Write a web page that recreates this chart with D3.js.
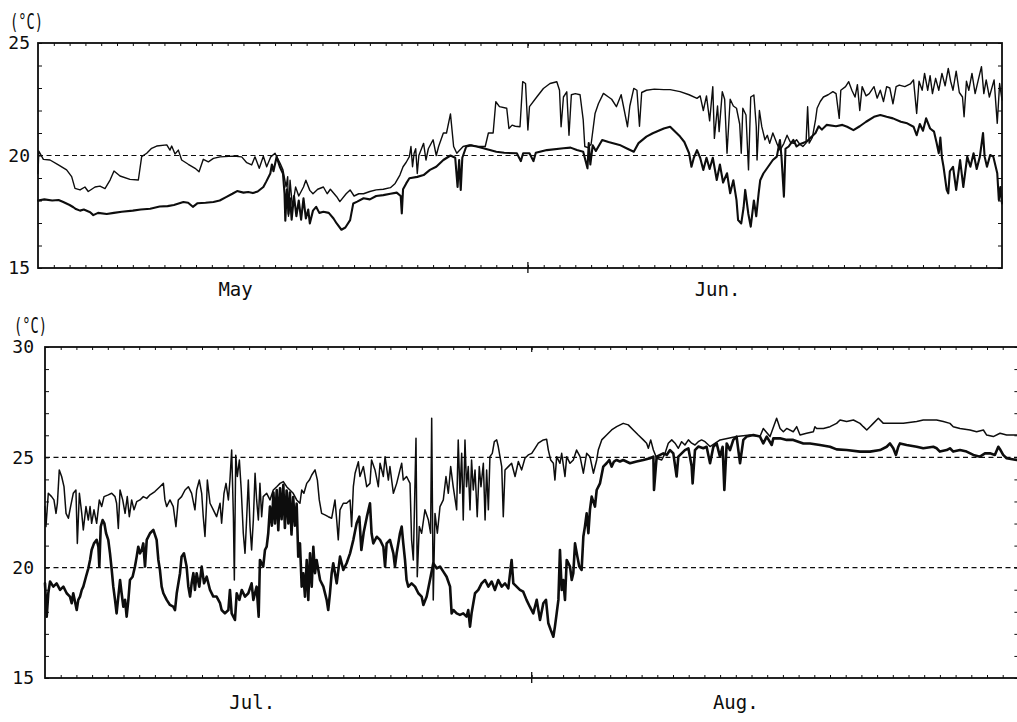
<!DOCTYPE html>
<html><head><meta charset="utf-8">
<script src="https://cdn.jsdelivr.net/npm/d3@7"></script>
<style>html,body{margin:0;padding:0;background:#fff;} svg{display:block;}</style>
</head><body>
<svg id="chart" width="1017" height="722"></svg>
<script>
// ---------- DATA (day offset from start of first month, temperature °C) ----------
const mayJunUpper = [[0.0,19.2],[0.05,20.2],[0.34,19.83],[0.76,19.8],[1.29,19.58],[1.81,19.36],[2.13,19.06],[2.34,18.54],[2.66,18.47],[2.97,18.6],[3.18,18.4],[3.61,18.6],[3.92,18.64],[4.24,18.53],[4.56,18.91],[4.81,19.31],[5.19,19.09],[5.82,18.94],[6.35,18.91],[6.56,19.95],[6.88,20.1],[7.19,20.32],[7.51,20.42],[8.15,20.47],[8.35,20.24],[8.46,20.42],[8.67,20.07],[8.88,20.24],[9.09,19.8],[9.51,19.61],[9.94,19.43],[10.19,19.28],[10.46,19.83],[10.78,19.72],[11.1,19.87],[11.52,19.94],[12.36,19.97],[12.89,19.94],[13.21,19.68],[13.52,19.58],[13.73,19.94],[14.0,19.43],[14.26,19.97],[14.47,19.5],[14.73,19.94],[15.0,20.1],[15.32,19.65],[15.5,19.36],[15.7,18.6],[15.8,19.06],[15.85,17.3],[15.95,18.9],[16.1,17.7],[16.3,18.6],[16.5,18.2],[16.8,18.6],[16.95,18.9],[17.2,18.45],[17.4,18.3],[17.7,18.5],[18.06,18.6],[18.3,18.3],[18.5,18.5],[18.9,18.17],[19.1,17.95],[19.5,18.3],[19.75,18.47],[20.0,18.2],[20.3,18.3],[20.6,18.3],[21.0,18.4],[21.4,18.47],[21.85,18.5],[22.3,18.57],[22.6,18.76],[22.9,19.13],[23.1,19.5],[23.3,19.7],[23.5,19.95],[23.6,20.4],[23.7,19.5],[23.8,20.1],[23.9,20.3],[24.0,19.2],[24.1,20.0],[24.4,20.54],[24.55,19.8],[24.7,20.3],[25.0,20.7],[25.2,20.0],[25.35,20.4],[25.65,21.0],[25.85,21.0],[26.1,21.85],[26.3,20.4],[26.5,20.1],[26.9,20.4],[27.3,20.47],[27.8,20.4],[28.3,20.4],[28.5,21.0],[28.8,21.0],[28.97,22.39],[29.2,22.17],[29.66,22.1],[29.8,21.2],[30.0,21.35],[30.2,21.3],[30.5,21.28],[30.67,23.28],[30.85,23.2],[31.0,21.13],[31.1,22.17],[31.56,22.6],[31.98,22.98],[32.4,23.2],[32.83,23.28],[33.0,22.9],[33.1,21.28],[33.25,22.6],[33.46,22.83],[33.6,20.9],[33.75,22.7],[34.0,22.75],[34.3,22.7],[34.5,21.58],[34.6,20.4],[34.8,20.35],[35.0,20.5],[35.25,21.87],[35.46,22.3],[35.78,22.76],[36.1,22.6],[36.3,22.5],[36.6,22.17],[36.9,22.7],[37.1,22.0],[37.3,21.28],[37.45,22.2],[37.7,22.98],[37.9,22.9],[38.06,21.3],[38.2,22.8],[38.5,22.9],[39.0,22.95],[39.6,22.93],[40.0,22.93],[40.63,22.84],[41.2,22.7],[41.7,22.54],[41.9,22.65],[42.1,22.0],[42.3,22.65],[42.5,21.54],[42.7,23.06],[42.8,20.76],[43.0,22.2],[43.1,21.06],[43.3,22.84],[43.45,22.5],[43.6,20.1],[43.8,22.5],[44.0,22.2],[44.2,22.1],[44.4,21.4],[44.5,20.1],[44.6,22.1],[44.8,21.8],[44.96,19.36],[45.1,22.6],[45.3,22.69],[45.45,21.3],[45.5,19.8],[45.65,22.0],[45.8,21.28],[46.0,20.7],[46.15,20.9],[46.3,20.54],[46.5,21.0],[46.75,20.54],[46.96,20.24],[47.2,20.54],[47.4,20.9],[47.6,20.6],[47.8,20.54],[48.0,20.7],[48.2,20.5],[48.4,20.4],[48.6,20.55],[48.7,22.17],[48.8,20.55],[49.0,20.8],[49.2,21.58],[49.3,22.1],[49.5,22.4],[49.7,22.6],[50.0,22.7],[50.3,22.84],[50.5,22.75],[50.7,21.65],[50.8,22.9],[51.1,23.06],[51.3,23.28],[51.5,22.9],[51.7,22.6],[51.85,23.15],[52.0,22.0],[52.15,23.06],[52.4,22.65],[52.6,22.75],[52.9,23.06],[53.1,22.55],[53.3,22.9],[53.5,22.4],[53.7,23.06],[53.9,23.0],[54.1,22.3],[54.3,23.06],[54.5,23.13],[54.85,23.06],[55.2,23.18],[55.4,23.36],[55.6,21.87],[55.75,23.3],[55.95,22.9],[56.1,23.65],[56.3,22.9],[56.45,23.55],[56.6,22.75],[56.8,23.43],[57.0,22.9],[57.2,23.65],[57.4,23.1],[57.6,23.87],[57.75,23.3],[57.9,22.9],[58.1,23.75],[58.3,22.8],[58.5,22.6],[58.6,21.72],[58.75,23.3],[58.9,22.9],[59.1,23.65],[59.3,22.75],[59.5,23.36],[59.7,23.95],[59.85,22.75],[60.0,23.36],[60.2,22.6],[60.5,23.36],[60.7,21.43],[60.85,23.2],[61.0,22.47]];

const mayJunLower = [[0.0,18.0],[0.4,18.05],[0.9,18.0],[1.3,18.02],[1.6,17.93],[2.0,17.8],[2.24,17.7],[2.4,17.62],[2.66,17.55],[2.9,17.6],[3.3,17.48],[3.5,17.35],[3.8,17.45],[4.35,17.4],[4.8,17.45],[5.3,17.5],[6.0,17.55],[6.5,17.6],[7.1,17.63],[7.7,17.73],[8.2,17.75],[8.6,17.8],[9.2,17.93],[9.5,17.9],[9.8,17.72],[10.1,17.88],[10.6,17.9],[11.1,17.93],[11.5,18.0],[11.9,18.15],[12.3,18.3],[12.6,18.42],[13.0,18.35],[13.3,18.38],[13.6,18.33],[13.9,18.4],[14.26,18.6],[14.45,18.85],[14.7,19.2],[14.8,19.6],[14.9,19.3],[15.1,19.94],[15.3,19.5],[15.5,19.2],[15.6,18.3],[15.65,17.1],[15.75,18.5],[15.85,17.4],[15.95,18.1],[16.05,17.15],[16.2,18.2],[16.35,17.3],[16.5,18.0],[16.65,17.15],[16.8,18.1],[16.95,17.2],[17.1,17.6],[17.2,16.98],[17.4,17.55],[17.6,17.72],[17.8,17.45],[18.06,17.5],[18.4,17.45],[18.7,17.2],[18.9,16.98],[19.2,16.7],[19.45,16.8],[19.75,17.13],[19.95,17.87],[20.2,17.95],[20.6,18.1],[21.0,18.05],[21.4,18.2],[21.85,18.24],[22.3,18.3],[22.7,18.35],[22.95,18.2],[23.02,17.43],[23.1,18.5],[23.3,18.76],[23.5,18.99],[24.0,19.05],[24.4,19.13],[24.8,19.36],[25.2,19.5],[25.65,19.8],[26.1,20.0],[26.4,19.9],[26.55,18.6],[26.65,19.8],[26.75,18.47],[26.85,19.9],[27.1,20.4],[27.4,20.45],[27.76,20.4],[28.3,20.3],[29.0,20.17],[29.5,20.12],[30.3,20.1],[30.55,19.75],[30.7,20.1],[31.1,20.1],[31.35,19.75],[31.5,20.12],[32.2,20.24],[33.25,20.32],[33.7,20.35],[34.1,20.24],[34.5,20.17],[34.77,19.43],[34.85,20.55],[34.95,19.6],[35.1,20.45],[35.3,20.2],[35.7,20.69],[36.1,20.6],[36.8,20.47],[37.3,20.3],[37.7,20.17],[38.0,20.55],[38.5,20.84],[38.9,20.99],[39.6,21.2],[40.0,21.28],[40.63,20.84],[40.9,20.6],[41.2,20.1],[41.35,19.5],[41.5,19.9],[41.7,20.24],[41.9,19.9],[42.1,19.36],[42.3,19.9],[42.5,19.4],[42.7,19.9],[42.95,18.91],[43.15,19.6],[43.35,18.8],[43.6,19.21],[43.8,18.32],[44.0,18.9],[44.2,18.02],[44.3,17.13],[44.5,16.98],[44.65,17.7],[44.75,18.47],[44.95,17.4],[45.1,16.84],[45.3,18.0],[45.45,17.3],[45.6,18.32],[45.7,18.9],[45.9,19.2],[46.2,19.5],[46.5,19.8],[46.75,19.95],[46.95,20.69],[47.05,19.9],[47.2,18.17],[47.3,20.3],[47.5,20.4],[47.8,20.69],[48.0,20.4],[48.2,20.5],[48.65,20.62],[48.9,20.8],[49.2,21.0],[49.4,21.3],[49.6,21.15],[49.9,21.36],[50.5,21.3],[50.9,21.36],[51.2,21.28],[51.6,21.13],[52.0,21.3],[52.4,21.5],[52.9,21.72],[53.3,21.8],[53.7,21.72],[54.1,21.65],[54.6,21.5],[55.0,21.43],[55.4,21.28],[55.6,20.9],[55.8,21.4],[56.0,21.1],[56.2,21.65],[56.45,21.2],[56.7,21.06],[56.85,20.6],[57.0,20.1],[57.1,20.8],[57.2,19.9],[57.3,19.5],[57.5,18.47],[57.6,18.32],[57.7,19.3],[57.9,19.5],[58.1,18.47],[58.35,19.8],[58.55,18.6],[58.8,19.95],[59.0,19.5],[59.2,20.1],[59.4,19.4],[59.6,19.95],[59.8,21.0],[59.9,19.95],[60.05,19.5],[60.25,20.02],[60.45,19.95],[60.7,19.21],[60.8,18.02],[60.9,18.6],[61.0,17.87]];

const julAugUpper = [[0.0,22.77],[0.06,21.86],[0.21,23.37],[0.42,23.22],[0.57,23.07],[0.7,22.46],[0.79,22.92],[0.91,24.43],[1.06,24.13],[1.21,23.67],[1.34,22.46],[1.49,22.24],[1.63,22.77],[1.8,23.37],[1.97,23.52],[2.06,21.1],[2.19,23.37],[2.34,22.46],[2.44,21.71],[2.61,22.77],[2.76,22.16],[2.87,22.77],[2.97,22.01],[3.12,22.62],[3.29,22.01],[3.46,23.07],[3.61,22.77],[3.76,23.22],[4.03,23.3],[4.25,23.37],[4.46,23.22],[4.56,22.92],[4.67,21.78],[4.78,23.52],[4.95,23.07],[5.1,22.46],[5.24,23.22],[5.37,22.31],[5.52,23.07],[5.67,22.62],[5.84,22.99],[6.05,23.07],[6.26,23.22],[6.48,23.14],[6.69,23.3],[7.0,23.45],[7.32,23.67],[7.54,23.82],[7.64,23.07],[7.75,22.77],[7.96,23.07],[8.17,22.77],[8.34,21.86],[8.49,23.07],[8.7,23.22],[8.92,23.52],[9.13,23.67],[9.34,23.37],[9.55,22.62],[9.66,23.52],[9.83,23.97],[9.98,23.37],[10.08,22.31],[10.19,21.41],[10.3,23.07],[10.34,23.97],[10.51,22.92],[10.72,22.62],[10.93,22.31],[11.15,22.92],[11.25,22.01],[11.4,23.37],[11.53,23.82],[11.68,23.07],[11.78,23.97],[11.89,25.33],[12.0,22.31],[12.06,19.44],[12.15,25.1],[12.25,24.13],[12.38,24.88],[12.5,23.52],[12.63,21.56],[12.74,20.65],[12.84,22.16],[12.95,23.97],[13.06,21.86],[13.16,20.8],[13.27,22.16],[13.38,24.28],[13.48,23.07],[13.59,22.16],[13.69,23.82],[13.8,22.31],[13.9,23.22],[14.12,23.37],[14.33,23.07],[14.54,23.52],[14.76,23.67],[14.97,23.82],[15.18,23.9],[15.39,23.67],[15.6,23.52],[15.81,23.37],[16.03,23.07],[16.24,22.92],[16.35,23.52],[16.49,23.37],[16.67,23.82],[16.84,23.97],[16.99,24.2],[17.2,24.43],[17.35,23.97],[17.47,23.07],[17.62,22.46],[17.83,22.39],[18.04,22.31],[18.26,22.24],[18.47,23.07],[18.58,22.16],[18.68,21.26],[18.79,22.62],[19.0,22.92],[19.21,22.92],[19.43,23.07],[19.53,21.86],[19.64,23.67],[19.75,24.28],[19.96,24.8],[20.06,24.13],[20.28,24.58],[20.49,23.67],[20.7,23.82],[20.8,24.88],[21.02,24.43],[21.23,23.67],[21.34,24.73],[21.55,24.13],[21.66,25.03],[21.87,23.97],[21.97,24.58],[22.19,23.37],[22.4,23.82],[22.61,24.43],[22.72,24.73],[22.82,23.97],[23.03,24.13],[23.25,23.82],[23.35,21.26],[23.46,20.35],[23.63,25.86],[23.71,19.59],[23.84,21.86],[23.99,21.56],[24.2,22.62],[24.42,22.16],[24.56,21.56],[24.63,26.77],[24.73,18.54],[24.84,22.46],[24.99,21.56],[25.16,22.77],[25.37,23.07],[25.54,24.13],[25.69,23.37],[25.84,24.58],[26.0,23.67],[26.22,22.62],[26.32,25.79],[26.43,23.37],[26.54,25.18],[26.64,22.16],[26.75,25.79],[26.85,23.67],[26.96,24.58],[27.07,22.62],[27.17,24.88],[27.28,23.52],[27.39,24.43],[27.53,22.31],[27.66,24.58],[27.77,23.67],[27.92,24.73],[28.03,22.16],[28.13,24.43],[28.24,22.62],[28.34,25.03],[28.49,25.18],[28.62,25.71],[28.77,25.79],[28.87,25.49],[28.98,25.03],[29.09,24.58],[29.19,22.31],[29.3,24.43],[29.51,24.58],[29.72,24.73],[29.94,24.13],[30.15,24.81],[30.36,24.43],[30.57,24.96],[30.78,25.11],[31.0,25.18],[31.21,25.41],[31.42,25.64],[31.74,25.79],[31.95,25.82],[32.06,25.33],[32.21,24.88],[32.38,24.73],[32.48,23.97],[32.59,25.03],[32.8,24.73],[32.91,25.18],[33.12,24.13],[33.23,25.03],[33.44,24.73],[33.65,24.88],[33.86,25.33],[34.08,25.03],[34.29,24.28],[34.5,25.18],[34.71,25.03],[34.93,24.28],[35.14,24.88],[35.24,25.33],[35.46,25.79],[35.77,26.01],[36.09,26.24],[36.41,26.39],[36.83,26.54],[37.15,26.47],[37.47,26.24],[37.79,26.01],[38.11,25.79],[38.32,25.64],[38.43,25.41],[38.58,25.79],[38.75,25.33],[38.96,24.96],[39.28,24.88],[39.49,25.18],[39.7,25.64],[39.92,25.79],[40.13,25.64],[40.34,25.41],[40.55,25.71],[40.76,25.56],[40.98,25.79],[41.19,25.64],[41.4,25.56],[41.61,25.71],[41.82,25.79],[42.04,25.71],[42.36,25.49],[43.0,25.79],[44.05,25.94],[44.9,26.01],[45.54,25.94],[45.75,26.31],[46.18,25.94],[46.6,26.77],[46.82,26.31],[47.03,26.16],[47.24,26.31],[47.66,26.16],[47.88,26.39],[48.09,26.01],[48.51,26.09],[48.94,26.16],[49.04,26.39],[49.15,26.31],[49.58,26.31],[50.0,26.39],[50.42,26.54],[50.64,26.69],[51.06,26.62],[51.49,26.69],[51.91,26.54],[52.12,26.39],[52.34,26.24],[52.55,26.39],[52.76,26.54],[53.08,26.77],[53.4,26.54],[53.82,26.54],[54.67,26.54],[55.52,26.62],[55.94,26.69],[56.37,26.69],[56.79,26.69],[57.22,26.62],[57.64,26.54],[57.85,26.39],[58.28,26.31],[58.92,26.24],[59.34,26.16],[59.77,26.24],[59.98,26.01],[60.4,25.94],[60.83,26.09],[61.25,26.01],[61.89,26.01]];

const julAugLower = [[0.0,19.29],[0.11,17.78],[0.21,18.84],[0.32,19.37],[0.53,19.14],[0.74,19.29],[0.96,18.99],[1.17,19.14],[1.38,18.84],[1.59,18.69],[1.7,18.39],[1.8,18.84],[2.02,18.08],[2.12,18.54],[2.23,18.69],[2.34,18.99],[2.44,19.14],[2.61,19.59],[2.76,19.97],[2.87,20.35],[2.97,20.8],[3.12,21.1],[3.29,21.26],[3.4,20.95],[3.46,20.05],[3.55,21.86],[3.67,22.16],[3.78,22.01],[3.89,21.56],[4.03,21.26],[4.14,20.65],[4.25,19.9],[4.35,19.14],[4.46,18.54],[4.56,17.93],[4.67,18.69],[4.78,19.44],[4.88,18.84],[4.99,18.23],[5.1,18.54],[5.2,17.78],[5.31,18.54],[5.41,19.44],[5.58,19.59],[5.73,20.05],[5.84,20.5],[5.94,20.95],[6.05,20.65],[6.16,20.8],[6.26,21.1],[6.37,20.05],[6.48,21.26],[6.69,21.56],[6.9,21.71],[7.11,21.26],[7.22,20.35],[7.32,19.9],[7.43,19.14],[7.54,18.84],[7.75,18.54],[7.96,18.31],[8.17,18.23],[8.28,18.08],[8.39,18.84],[8.6,19.75],[8.7,20.5],[8.85,20.65],[9.02,20.05],[9.13,19.14],[9.24,18.69],[9.34,19.29],[9.45,19.75],[9.55,18.99],[9.66,19.75],[9.83,19.14],[9.98,20.05],[10.13,19.29],[10.3,19.59],[10.51,18.99],[10.72,18.69],[10.93,18.69],[11.15,18.39],[11.25,18.08],[11.46,17.93],[11.68,18.08],[11.78,18.99],[11.89,17.93],[12.1,17.63],[12.21,18.84],[12.38,18.54],[12.53,18.99],[12.74,18.69],[12.95,18.84],[13.16,19.29],[13.27,18.54],[13.48,19.14],[13.61,17.78],[13.69,20.35],[13.9,20.05],[14.01,20.8],[14.12,20.95],[14.22,21.56],[14.33,22.77],[14.45,21.9],[14.55,23.4],[14.65,22.0],[14.76,23.52],[14.86,21.7],[14.97,23.6],[15.07,22.2],[15.18,23.75],[15.28,21.8],[15.39,23.5],[15.5,22.0],[15.6,23.4],[15.7,21.5],[15.81,23.2],[15.92,21.9],[16.03,22.9],[16.13,20.5],[16.24,21.1],[16.35,19.14],[16.45,19.75],[16.56,18.69],[16.67,20.35],[16.77,18.54],[16.88,20.65],[16.99,19.14],[17.09,20.95],[17.2,19.75],[17.3,20.35],[17.52,19.44],[17.73,19.14],[17.94,18.54],[18.04,18.08],[18.15,18.84],[18.26,19.75],[18.36,20.2],[18.58,19.29],[18.79,20.5],[19.0,19.9],[19.21,20.2],[19.43,20.65],[19.64,21.26],[19.85,22.01],[20.02,22.31],[20.15,20.8],[20.3,21.6],[20.5,22.3],[20.7,22.92],[20.8,21.56],[20.91,21.1],[21.13,21.4],[21.34,21.26],[21.55,20.95],[21.66,20.05],[21.76,21.1],[21.97,21.26],[22.19,20.65],[22.29,20.05],[22.4,20.65],[22.61,21.56],[22.72,21.86],[22.82,21.1],[22.93,20.35],[23.03,19.44],[23.14,19.14],[23.35,19.29],[23.57,19.14],[23.78,18.84],[23.99,18.69],[24.1,18.31],[24.31,18.69],[24.52,19.44],[24.73,20.2],[24.95,19.97],[25.16,20.05],[25.37,19.82],[25.58,19.59],[25.8,19.14],[25.9,17.93],[26.01,18.08],[26.22,17.93],[26.43,17.86],[26.64,17.93],[26.85,17.78],[26.96,18.08],[27.07,17.33],[27.17,17.93],[27.28,18.39],[27.39,18.84],[27.6,18.99],[27.81,19.29],[28.03,19.44],[28.24,19.14],[28.45,19.37],[28.66,18.99],[28.87,19.44],[29.09,19.14],[29.3,19.29],[29.51,19.06],[29.72,20.35],[29.83,19.29],[30.04,19.14],[30.25,18.99],[30.46,18.91],[30.67,18.54],[30.88,18.23],[31.1,17.93],[31.32,18.54],[31.53,17.63],[31.74,18.39],[31.91,18.54],[32.06,17.48],[32.21,17.18],[32.38,16.87],[32.48,17.33],[32.59,17.93],[32.7,18.54],[32.8,20.8],[32.91,18.99],[33.01,19.44],[33.12,18.54],[33.23,20.35],[33.44,20.05],[33.55,19.44],[33.65,19.75],[33.76,21.1],[33.91,20.5],[34.03,20.05],[34.18,19.9],[34.29,21.41],[34.39,21.86],[34.5,22.46],[34.61,21.56],[34.71,22.62],[34.82,23.22],[35.03,22.77],[35.14,23.52],[35.35,23.82],[35.56,24.58],[35.77,24.73],[35.94,24.88],[36.09,24.58],[36.24,24.81],[36.41,24.88],[36.62,24.81],[36.83,24.88],[37.26,24.73],[37.68,24.81],[38.11,24.88],[38.54,24.96],[38.75,25.03],[38.79,23.52],[38.96,25.03],[39.38,25.18],[39.6,25.11],[39.81,25.33],[40.02,25.18],[40.23,24.13],[40.34,25.03],[40.55,25.18],[40.76,25.33],[40.98,25.41],[41.19,24.58],[41.25,23.82],[41.4,25.33],[41.61,25.49],[41.93,25.41],[42.14,25.48],[42.36,24.73],[42.57,25.48],[42.78,25.63],[42.99,25.03],[43.16,25.48],[43.27,23.52],[43.42,25.63],[43.63,25.33],[43.84,25.79],[44.05,25.94],[44.27,24.73],[44.48,25.79],[44.69,25.94],[45.12,26.01],[45.54,25.94],[45.75,25.63],[45.97,25.94],[46.29,25.56],[46.39,25.86],[46.82,25.86],[47.24,25.79],[47.66,25.79],[48.3,25.63],[48.73,25.63],[49.36,25.56],[50.0,25.48],[50.42,25.36],[51.06,25.33],[51.91,25.26],[52.55,25.26],[53.19,25.33],[53.61,25.48],[53.82,25.63],[54.03,25.41],[54.2,25.11],[54.35,25.48],[54.46,25.63],[54.88,25.56],[55.52,25.48],[55.94,25.41],[56.58,25.48],[56.79,25.41],[57.0,25.26],[57.43,25.33],[57.64,25.41],[57.85,25.26],[58.28,25.33],[58.7,25.26],[59.13,25.11],[59.55,25.03],[59.87,25.18],[60.19,25.18],[60.5,25.11],[60.72,25.48],[60.86,25.33],[61.03,25.11],[61.25,24.96],[61.89,24.88]];

const topYLabels = [15, 20, 25];
const bottomYLabels = [15, 20, 25, 30];
const topDashed = [20];
const bottomDashed = [25, 20];
const topMonthNames = ["May", "Jun."];
const topMonthLabelDays = [12.5, 43.0];
const bottomMonthNames = ["Jul.", "Aug."];
const bottomMonthLabelDays = [13.2, 44.0];
const topMonthBoundaries = [31];
const bottomMonthBoundaries = [31];
const unitLabel = "(°C)";

// ---------- DRAWING ----------
const svg = d3.select("#chart");
svg.append("rect").attr("width", 1017).attr("height", 722).attr("fill", "#fff");
const INK = "#0d0d0d";
const FONT = "'DejaVu Sans Mono', monospace";

function drawPanel(p) {
  const x = d3.scaleLinear().domain([0, p.nDays]).range([p.left, p.right]);
  const y = d3.scaleLinear().domain([p.yMin, p.yMax]).range([p.bottom, p.top]);
  const g = svg.append("g").attr("color", INK);
  const days = d3.range(1, p.nDays);

  g.append("g").attr("transform", `translate(0,${p.bottom})`)
    .call(d3.axisBottom(x).tickValues(days).tickSizeInner(-3).tickSizeOuter(0).tickFormat(""))
    .call(s => s.select(".domain").remove());
  g.append("g").attr("transform", `translate(0,${p.top})`)
    .call(d3.axisTop(x).tickValues(days).tickSizeInner(-3).tickSizeOuter(0).tickFormat(""))
    .call(s => s.select(".domain").remove());

  const ly = g.append("g").attr("transform", `translate(${p.left},0)`)
    .call(d3.axisLeft(y).tickValues(d3.range(p.yMin, p.yMax + 1)).tickSizeInner(-4).tickSizeOuter(0)
      .tickPadding(p.labelPad).tickFormat(d => p.labels.includes(d) ? d : ""))
    .call(s => s.select(".domain").remove());
  ly.selectAll("text").attr("font-family", FONT).attr("font-size", 18).attr("fill", INK);

  g.append("g").attr("transform", `translate(${p.right},0)`)
    .call(d3.axisRight(y).tickValues(d3.range(p.yMin, p.yMax + 1)).tickSizeInner(-4).tickSizeOuter(0).tickFormat(""))
    .call(s => s.select(".domain").remove());

  g.append("rect").attr("x", p.left).attr("y", p.top)
    .attr("width", p.right - p.left).attr("height", p.bottom - p.top)
    .attr("fill", "none").attr("stroke", INK).attr("stroke-width", 1.8);

  g.selectAll(".dash").data(p.dashed).join("line")
    .attr("x1", p.left).attr("x2", p.right)
    .attr("y1", d => y(d)).attr("y2", d => y(d))
    .attr("stroke", INK).attr("stroke-width", 1.2).attr("stroke-dasharray", "5,3.5");

  g.selectAll(".mb").data(p.monthBounds).join("line")
    .attr("x1", d => x(d)).attr("x2", d => x(d))
    .attr("y1", p.bottom - 6).attr("y2", p.bottom + 5)
    .attr("stroke", INK).attr("stroke-width", 1.3);
  g.selectAll(".mt").data(p.monthBounds).join("line")
    .attr("x1", d => x(d)).attr("x2", d => x(d))
    .attr("y1", p.top).attr("y2", p.top + 5)
    .attr("stroke", INK).attr("stroke-width", 1.2);

  const line = d3.line().x(d => x(d[0])).y(d => y(d[1]));
  p.series.forEach(s => {
    g.append("path").datum(s.data).attr("d", line)
      .attr("fill", "none").attr("stroke", INK).attr("stroke-width", s.w)
      .attr("stroke-linejoin", "round").attr("stroke-linecap", "round");
  });

  g.selectAll(".ml").data(p.monthNames).join("text")
    .attr("x", (d, i) => x(p.monthDays[i])).attr("y", p.monthY)
    .attr("text-anchor", "middle").attr("font-family", FONT).attr("font-size", 19)
    .attr("fill", INK).text(d => d);

  g.append("text").attr("x", p.unitX).attr("y", p.unitY)
    .attr("font-family", FONT).attr("font-size", 22).attr("fill", INK)
    .attr("textLength", 33).attr("lengthAdjust", "spacingAndGlyphs")
    .text(unitLabel);
}

drawPanel({
  nDays: 61, left: 38, right: 1002, top: 43, bottom: 268, yMin: 15, yMax: 25,
  labels: topYLabels, labelPad: 8, dashed: topDashed, monthBounds: topMonthBoundaries,
  series: [{data: mayJunUpper, w: 1.4}, {data: mayJunLower, w: 2.1}],
  monthNames: topMonthNames, monthDays: topMonthLabelDays, monthY: 296,
  unitX: 10, unitY: 29
});
drawPanel({
  nDays: 62, left: 45, right: 1018.4, top: 347, bottom: 678, yMin: 15, yMax: 30,
  labels: bottomYLabels, labelPad: 11, dashed: bottomDashed, monthBounds: bottomMonthBoundaries,
  series: [{data: julAugUpper, w: 1.5}, {data: julAugLower, w: 2.6}],
  monthNames: bottomMonthNames, monthDays: bottomMonthLabelDays, monthY: 709,
  unitX: 14, unitY: 333
});
</script>
</body></html>
